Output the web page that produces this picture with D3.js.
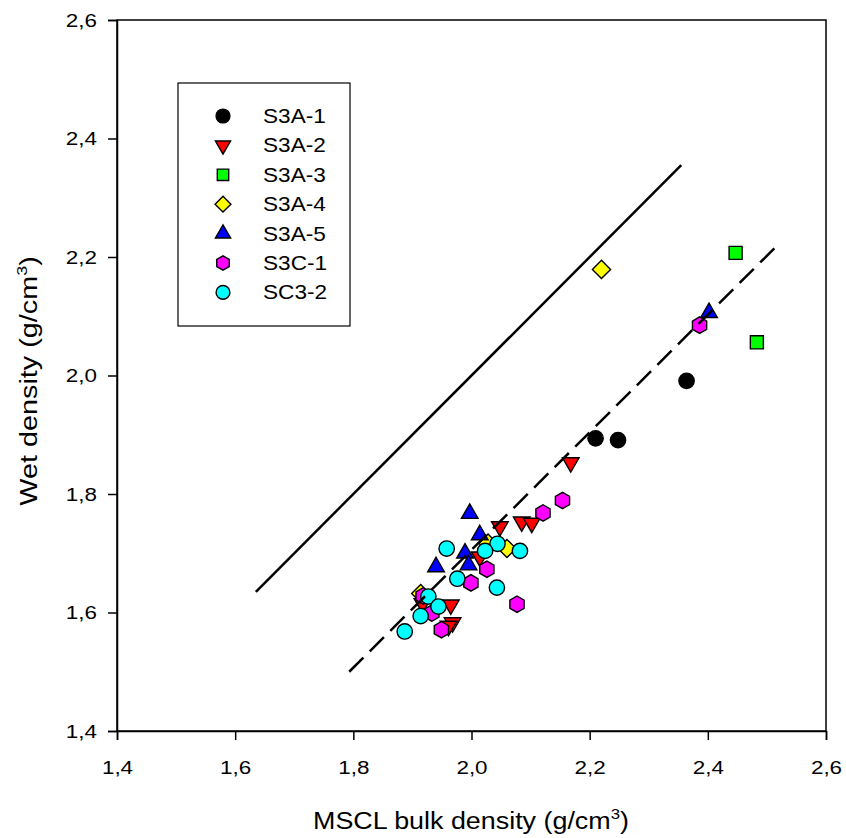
<!DOCTYPE html>
<html>
<head>
<meta charset="utf-8">
<script src="https://d3js.org/d3.v7.min.js"></script>
<style>
  body { margin: 0; background: #fff; }
  text { font-family: "Liberation Sans", Arial, sans-serif; fill: #000; }
</style>
</head>
<body>
<svg id="chart" width="846" height="838"></svg>
<script>
// data
var s3a1 = [[2.210, 1.894], [2.248, 1.891], [2.364, 1.991]];
var s3a2 = [[2.168, 1.853], [2.048, 1.745], [2.085, 1.753], [2.102, 1.751], [2.014, 1.694],
            [1.917, 1.615], [1.965, 1.613], [1.968, 1.583], [1.961, 1.577]];
var s3a3 = [[2.447, 2.207], [2.483, 2.056]];
var s3a4 = [[2.220, 2.179], [2.060, 1.708], [2.028, 1.717], [1.914, 1.632]];
var s3a5 = [[2.402, 2.106], [1.997, 1.767], [2.014, 1.731], [1.989, 1.700], [1.995, 1.680], [1.940, 1.677]];
var s3c1 = [[2.386, 2.085], [2.154, 1.789], [2.121, 1.768], [2.026, 1.673], [1.999, 1.650],
            [2.077, 1.614], [1.949, 1.571], [1.933, 1.599], [1.918, 1.628]];
var sc32 = [[1.958, 1.708], [2.044, 1.716], [2.023, 1.704], [2.082, 1.704], [1.976, 1.657],
            [2.043, 1.642], [1.927, 1.627], [1.944, 1.610], [1.914, 1.594], [1.887, 1.568]];

var seriesNames = ["S3A-1", "S3A-2", "S3A-3", "S3A-4", "S3A-5", "S3C-1", "SC3-2"];
var seriesData = [s3a1, s3a2, s3a3, s3a4, s3a5, s3c1, sc32];
var seriesColors = ["#000000", "#ff0000", "#00ff00", "#ffff00", "#0000ff", "#ff00ff", "#00ffff"];

var oneToOne = [[1.635, 1.635], [2.355, 2.355]];
var fitLine = [[1.793, 1.500], [2.513, 2.215]];

var ticks = [1.4, 1.6, 1.8, 2.0, 2.2, 2.4, 2.6];

var svg = d3.select("#chart");
var pLeft = 117, pRight = 826, pTop = 20, pBottom = 731;
var stretch = 1.18; // the reference font is a bit wider than Arial

var x = d3.scaleLinear().domain([1.4, 2.6]).range([pLeft, pRight]);
var y = d3.scaleLinear().domain([1.4, 2.6]).range([pBottom, pTop]);
var fmt = function(d) { return d3.format(".1f")(d).replace(".", ","); };

// frame
svg.append("rect")
  .attr("x", pLeft).attr("y", pTop)
  .attr("width", pRight - pLeft).attr("height", pBottom - pTop)
  .attr("fill", "none").attr("stroke", "#000").attr("stroke-width", 1.5);

var xAxis = svg.append("g")
  .attr("transform", "translate(0," + pBottom + ")")
  .call(d3.axisBottom(x).tickValues(ticks).tickFormat(fmt).tickSize(9).tickPadding(21));
var yAxis = svg.append("g")
  .attr("transform", "translate(" + pLeft + ",0)")
  .call(d3.axisLeft(y).tickValues(ticks).tickFormat(fmt).tickSize(9).tickPadding(11));
[xAxis, yAxis].forEach(function(a) {
  a.attr("font-family", null).attr("font-size", null);
  a.select(".domain").attr("stroke-width", 1.5);
  a.selectAll(".tick line").attr("stroke-width", 1.5);
  a.selectAll(".tick text").style("font-size", "19px")
    .attr("transform", "scale(" + stretch + ",1)");
});
yAxis.selectAll(".tick text").attr("x", -20 / stretch);

// axis titles
function title(g, label) {
  g.append("tspan").text(label);
  g.append("tspan").attr("dy", -10).style("font-size", "15px").text("3");
  g.append("tspan").attr("dy", 10).text(")");
}
var xt = svg.append("text")
  .attr("transform", "translate(471,829) scale(1.12,1)")
  .attr("text-anchor", "middle")
  .style("font-size", "24px");
title(xt, "MSCL bulk density (g/cm");

var yt = svg.append("text")
  .attr("transform", "translate(37,381) rotate(-90) scale(1.2,1)")
  .attr("text-anchor", "middle")
  .style("font-size", "24px");
title(yt, "Wet density (g/cm");

// marker shapes
var hexagon = {
  draw: function(ctx, size) {
    var r = Math.sqrt(size / (1.5 * Math.sqrt(3)));
    for (var i = 0; i < 6; i++) {
      var a = Math.PI / 2 + i * Math.PI / 3;
      var px = r * Math.cos(a), py = r * Math.sin(a);
      if (i === 0) ctx.moveTo(px, py); else ctx.lineTo(px, py);
    }
    ctx.closePath();
  }
};
var shapes = [
  { type: d3.symbolCircle, size: 185, rot: 0 },
  { type: d3.symbolTriangle, size: 120, rot: 180 },
  { type: d3.symbolSquare, size: 170, rot: 0 },
  { type: d3.symbolSquare, size: 165, rot: 45 },
  { type: d3.symbolTriangle, size: 120, rot: 0 },
  { type: hexagon, size: 175, rot: 0 },
  { type: d3.symbolCircle, size: 185, rot: 0 }
];
var legendShapes = [150, 100, 130, 125, 100, 135, 150];

seriesData.forEach(function(data, i) {
  svg.append("g").selectAll("path")
    .data(data)
    .enter().append("path")
    .attr("d", d3.symbol().type(shapes[i].type).size(shapes[i].size))
    .attr("transform", function(d) {
      return "translate(" + x(d[0]) + "," + y(d[1]) + ") rotate(" + shapes[i].rot + ")";
    })
    .attr("fill", seriesColors[i])
    .attr("stroke", "#000")
    .attr("stroke-width", 1.4);
});

// reference lines
var line = d3.line().x(function(d) { return x(d[0]); }).y(function(d) { return y(d[1]); });
svg.append("path").datum(oneToOne)
  .attr("d", line).attr("fill", "none").attr("stroke", "#000").attr("stroke-width", 2.5);
svg.append("path").datum(fitLine)
  .attr("d", line).attr("fill", "none").attr("stroke", "#000").attr("stroke-width", 2.5)
  .attr("stroke-dasharray", "20,9");

// legend
svg.append("rect")
  .attr("x", 178).attr("y", 83).attr("width", 172).attr("height", 243)
  .attr("fill", "#fff").attr("stroke", "#000").attr("stroke-width", 1.2);
var lg = svg.selectAll(".legend")
  .data(seriesNames)
  .enter().append("g")
  .attr("class", "legend")
  .attr("transform", function(d, i) { return "translate(223," + (116 + i * 29.4) + ")"; });
lg.append("path")
  .attr("d", function(d, i) { return d3.symbol().type(shapes[i].type).size(legendShapes[i])(); })
  .attr("transform", function(d, i) { return "rotate(" + shapes[i].rot + ")"; })
  .attr("fill", function(d, i) { return seriesColors[i]; })
  .attr("stroke", "#000").attr("stroke-width", 1.4);
lg.append("text")
  .attr("transform", "translate(40,0) scale(1.13,1)")
  .attr("dy", "0.35em")
  .style("font-size", "20px")
  .text(function(d) { return d; });
</script>
</body>
</html>
